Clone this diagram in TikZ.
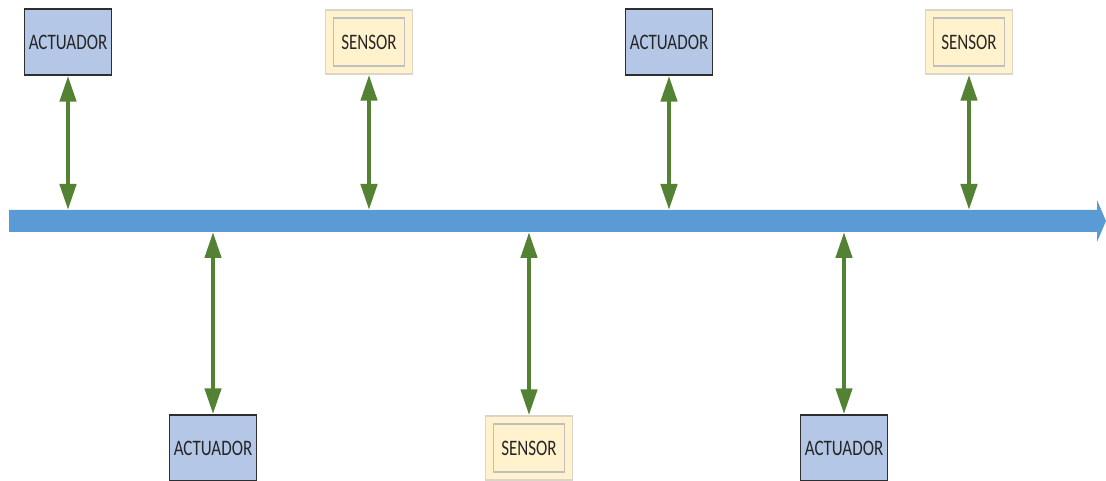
\documentclass[tikz,border=0pt]{standalone}
\usepackage{fontspec}
\usepackage{graphicx}
\setmainfont{Carlito}
\usetikzlibrary{arrows.meta}
\definecolor{actfill}{HTML}{B4C7E7}
\definecolor{actdraw}{HTML}{2E2E2E}
\definecolor{senfill}{HTML}{FFF2CC}
\definecolor{sendraw}{HTML}{D9D5C8}
\definecolor{seninner}{HTML}{BFBFBF}
\definecolor{linkgreen}{HTML}{548235}
\definecolor{busblue}{HTML}{5B9BD5}
\definecolor{txt}{HTML}{262626}
\begin{document}
\begin{tikzpicture}[x=1pt,y=-1pt,
 lbl/.style={font=\fontsize{17}{20}\selectfont, text=txt},
 actbox/.style={draw=actdraw, fill=actfill, line width=1.5pt, minimum width=87pt, minimum height=66pt, inner sep=0pt, lbl},
 senbox/.style={draw=sendraw, fill=senfill, line width=1.5pt, minimum width=87pt, minimum height=64pt, inner sep=0pt, lbl,
   path picture={\draw[seninner, line width=1.2pt] ([shift={(8pt,-8pt)}]path picture bounding box.north west) rectangle ([shift={(-8pt,8pt)}]path picture bounding box.south east);}},
 linkarrow/.style={draw=linkgreen, line width=4.5pt, {Triangle[length=26pt,width=16pt]}-{Triangle[length=26pt,width=16pt]}}
]
\useasboundingbox (0,0) rectangle (1106,481);
% bus
\fill[busblue] (9,210) -- (1097,210) -- (1097,200) -- (1106,221) -- (1097,242) -- (1097,232) -- (9,232) -- cycle;
% top nodes
\node[actbox] (a1) at (68,42) {\scalebox{1}[1.3]{ACTUADOR}};
\node[senbox] (s1) at (369,42) {\scalebox{1}[1.3]{SENSOR}};
\node[actbox] (a2) at (669,42) {\scalebox{1}[1.3]{ACTUADOR}};
\node[senbox] (s2) at (969,42) {\scalebox{1}[1.3]{SENSOR}};
% bottom nodes
\node[actbox] (a3) at (213,448) {\scalebox{1}[1.3]{ACTUADOR}};
\node[senbox] (s3) at (529,448) {\scalebox{1}[1.3]{SENSOR}};
\node[actbox] (a4) at (844,448) {\scalebox{1}[1.3]{ACTUADOR}};
% bus taps
\coordinate (t1) at (68,210);
\coordinate (t2) at (369,210);
\coordinate (t3) at (669,210);
\coordinate (t4) at (969,210);
\coordinate (u1) at (213,232);
\coordinate (u2) at (529,232);
\coordinate (u3) at (844,232);
% links
\draw[linkarrow] (a1.south) -- (t1);
\draw[linkarrow] (s1.south) -- (t2);
\draw[linkarrow] (a2.south) -- (t3);
\draw[linkarrow] (s2.south) -- (t4);
\draw[linkarrow] (u1) -- (a3.north);
\draw[linkarrow] (u2) -- (s3.north);
\draw[linkarrow] (u3) -- (a4.north);
\end{tikzpicture}
\end{document}
